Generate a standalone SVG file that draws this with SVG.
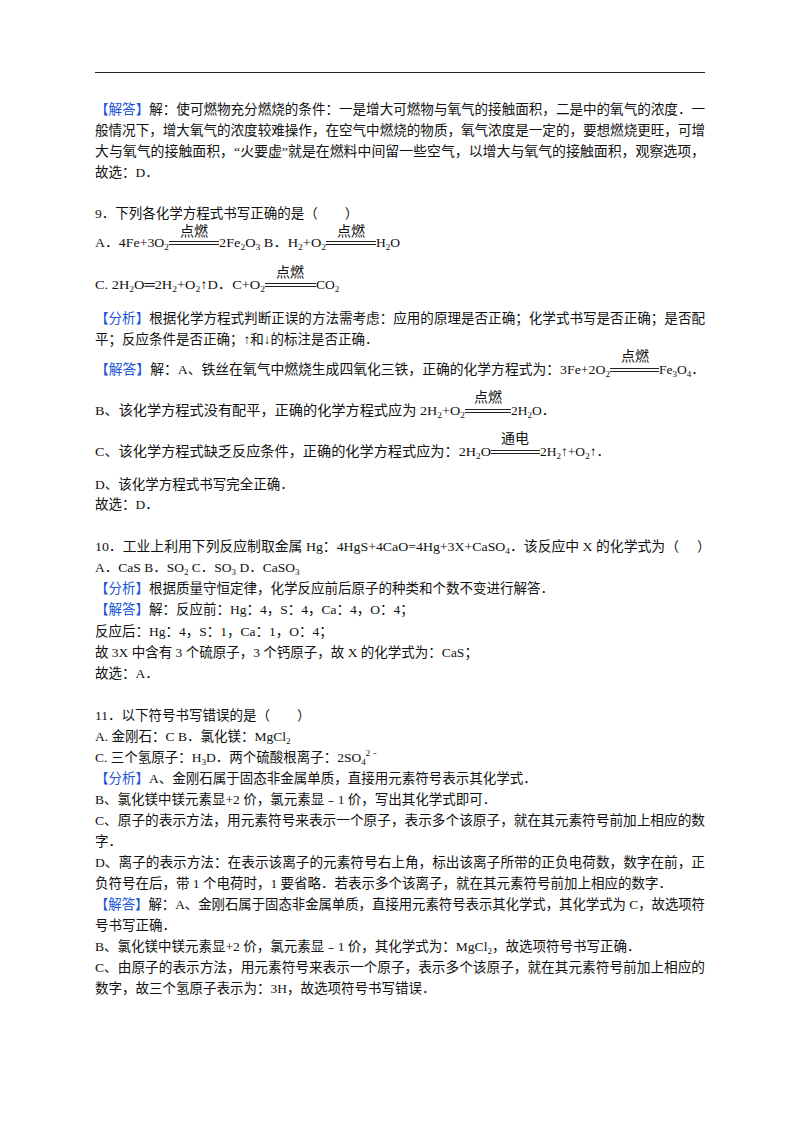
<svg xmlns="http://www.w3.org/2000/svg" width="800" height="1132" viewBox="0 0 800 1132">
<style>
text{font-family:"Liberation Serif","Noto Sans CJK SC",serif;font-size:13.5px;fill:#111}
.b{fill:#1a56d6}
.k{font-family:"Noto Sans CJK SC",sans-serif;font-size:14px}
.s{font-size:9px}
line{stroke:#222;stroke-width:1}
</style>
<rect width="800" height="1132" fill="#fff"/>
<line x1="95" y1="72.5" x2="705" y2="72.5" stroke-width="1.5"/>
<text x="95" y="114" textLength="610" lengthAdjust="spacingAndGlyphs"><tspan class="b">【解答】</tspan>解：使可燃物充分燃烧的条件：一是增大可燃物与氧气的接触面积，二是中的氧气的浓度．一</text>
<text x="95" y="135" textLength="610" lengthAdjust="spacingAndGlyphs">般情况下，增大氧气的浓度较难操作，在空气中燃烧的物质，氧气浓度是一定的，要想燃烧更旺，可增</text>
<text x="95" y="156" textLength="610" lengthAdjust="spacingAndGlyphs">大与氧气的接触面积，“火要虚”就是在燃料中间留一些空气，以增大与氧气的接触面积，观察选项，</text>
<text x="95" y="177">故选：D．</text>

<text x="95" y="218">9．下列各化学方程式书写正确的是（　　）</text>
<text x="95" y="247" textLength="74" lengthAdjust="spacingAndGlyphs">A．4Fe+3O<tspan class="s" dy="3">2</tspan></text>
<line x1="169" y1="241.5" x2="219" y2="241.5"/><line x1="169" y1="244.5" x2="219" y2="244.5"/>
<text class="k" x="194" y="236" text-anchor="middle">点燃</text>
<text x="219" y="247" textLength="107" lengthAdjust="spacingAndGlyphs">2Fe<tspan class="s" dy="3">2</tspan><tspan dy="-3">O</tspan><tspan class="s" dy="3">3</tspan><tspan dy="-3"> B．H</tspan><tspan class="s" dy="3">2</tspan><tspan dy="-3">+O</tspan><tspan class="s" dy="3">2</tspan></text>
<line x1="326" y1="241.5" x2="376" y2="241.5"/><line x1="326" y1="244.5" x2="376" y2="244.5"/>
<text class="k" x="351" y="236" text-anchor="middle">点燃</text>
<text x="376" y="247">H<tspan class="s" dy="3">2</tspan><tspan dy="-3">O</tspan></text>

<text x="95" y="289" textLength="170" lengthAdjust="spacingAndGlyphs">C. 2H<tspan class="s" dy="3">2</tspan><tspan dy="-3">O═2H</tspan><tspan class="s" dy="3">2</tspan><tspan dy="-3">+O</tspan><tspan class="s" dy="3">2</tspan><tspan dy="-3">↑D．C+O</tspan><tspan class="s" dy="3">2</tspan></text>
<line x1="265" y1="283.5" x2="316" y2="283.5"/><line x1="265" y1="286.5" x2="316" y2="286.5"/>
<text class="k" x="290" y="277" text-anchor="middle">点燃</text>
<text x="316" y="289">CO<tspan class="s" dy="3">2</tspan></text>

<text x="95" y="323" textLength="610" lengthAdjust="spacingAndGlyphs"><tspan class="b">【分析】</tspan>根据化学方程式判断正误的方法需考虑：应用的原理是否正确；化学式书写是否正确；是否配</text>
<text x="95" y="344">平；反应条件是否正确；↑和↓的标注是否正确．</text>

<text x="95" y="374" textLength="515" lengthAdjust="spacingAndGlyphs"><tspan class="b">【解答】</tspan>解：A、铁丝在氧气中燃烧生成四氧化三铁，正确的化学方程式为：3Fe+2O<tspan class="s" dy="3">2</tspan></text>
<line x1="610" y1="368.5" x2="659" y2="368.5"/><line x1="610" y1="371.5" x2="659" y2="371.5"/>
<text class="k" x="635" y="361" text-anchor="middle">点燃</text>
<text x="659" y="374">Fe<tspan class="s" dy="3">3</tspan><tspan dy="-3">O</tspan><tspan class="s" dy="3">4</tspan><tspan dy="-3">．</tspan></text>

<text x="95" y="415" textLength="370" lengthAdjust="spacingAndGlyphs">B、该化学方程式没有配平，正确的化学方程式应为 2H<tspan class="s" dy="3">2</tspan><tspan dy="-3">+O</tspan><tspan class="s" dy="3">2</tspan></text>
<line x1="465" y1="409.5" x2="511" y2="409.5"/><line x1="465" y1="412.5" x2="511" y2="412.5"/>
<text class="k" x="488" y="402" text-anchor="middle">点燃</text>
<text x="511" y="415">2H<tspan class="s" dy="3">2</tspan><tspan dy="-3">O．</tspan></text>

<text x="95" y="456" textLength="396" lengthAdjust="spacingAndGlyphs">C、该化学方程式缺乏反应条件，正确的化学方程式应为：2H<tspan class="s" dy="3">2</tspan><tspan dy="-3">O</tspan></text>
<line x1="491" y1="450.5" x2="540" y2="450.5"/><line x1="491" y1="453.5" x2="540" y2="453.5"/>
<text class="k" x="515" y="443" text-anchor="middle">通电</text>
<text x="540" y="456">2H<tspan class="s" dy="3">2</tspan><tspan dy="-3">↑+O</tspan><tspan class="s" dy="3">2</tspan><tspan dy="-3">↑．</tspan></text>

<text x="95" y="489">D、该化学方程式书写完全正确．</text>
<text x="95" y="509">故选：D．</text>

<text x="95" y="551" textLength="584" lengthAdjust="spacingAndGlyphs">10．工业上利用下列反应制取金属 Hg：4HgS+4CaO=4Hg+3X+CaSO<tspan class="s" dy="3">4</tspan><tspan dy="-3">．该反应中 X 的化学式为（</tspan></text>
<text x="697" y="551">）</text>
<text x="95" y="572">A．CaS  B．SO<tspan class="s" dy="3">2</tspan><tspan dy="-3">  C．SO</tspan><tspan class="s" dy="3">3</tspan><tspan dy="-3">  D．CaSO</tspan><tspan class="s" dy="3">3</tspan></text>
<text x="95" y="593"><tspan class="b">【分析】</tspan>根据质量守恒定律，化学反应前后原子的种类和个数不变进行解答．</text>
<text x="95" y="614"><tspan class="b">【解答】</tspan>解：反应前：Hg：4，S：4，Ca：4，O：4；</text>
<text x="95" y="636">反应后：Hg：4，S：1，Ca：1，O：4；</text>
<text x="95" y="657">故 3X 中含有 3 个硫原子，3 个钙原子，故 X 的化学式为：CaS；</text>
<text x="95" y="678">故选：A．</text>

<text x="95" y="720">11．以下符号书写错误的是（　　）</text>
<text x="95" y="741">A. 金刚石：C B．氯化镁：MgCl<tspan class="s" dy="3">2</tspan></text>
<text x="95" y="762">C. 三个氢原子：H<tspan class="s" dy="3">3</tspan><tspan dy="-3">D．两个硫酸根离子：2SO</tspan><tspan class="s" dy="3">4</tspan><tspan class="s" dy="-9">2﹣</tspan></text>
<text x="95" y="783"><tspan class="b">【分析】</tspan>A、金刚石属于固态非金属单质，直接用元素符号表示其化学式．</text>
<text x="95" y="804">B、氯化镁中镁元素显+2 价，氯元素显﹣1 价，写出其化学式即可．</text>
<text x="95" y="825" textLength="610" lengthAdjust="spacingAndGlyphs">C、原子的表示方法，用元素符号来表示一个原子，表示多个该原子，就在其元素符号前加上相应的数</text>
<text x="95" y="846">字．</text>
<text x="95" y="867" textLength="610" lengthAdjust="spacingAndGlyphs">D、离子的表示方法：在表示该离子的元素符号右上角，标出该离子所带的正负电荷数，数字在前，正</text>
<text x="95" y="888">负符号在后，带 1 个电荷时，1 要省略．若表示多个该离子，就在其元素符号前加上相应的数字．</text>
<text x="95" y="909" textLength="610" lengthAdjust="spacingAndGlyphs"><tspan class="b">【解答】</tspan>解：A、金刚石属于固态非金属单质，直接用元素符号表示其化学式，其化学式为 C，故选项符</text>
<text x="95" y="930">号书写正确．</text>
<text x="95" y="951">B、氯化镁中镁元素显+2 价，氯元素显﹣1 价，其化学式为：MgCl<tspan class="s" dy="3">2</tspan><tspan dy="-3">，故选项符号书写正确．</tspan></text>
<text x="95" y="972" textLength="610" lengthAdjust="spacingAndGlyphs">C、由原子的表示方法，用元素符号来表示一个原子，表示多个该原子，就在其元素符号前加上相应的</text>
<text x="95" y="993">数字，故三个氢原子表示为：3H，故选项符号书写错误．</text>
</svg>
